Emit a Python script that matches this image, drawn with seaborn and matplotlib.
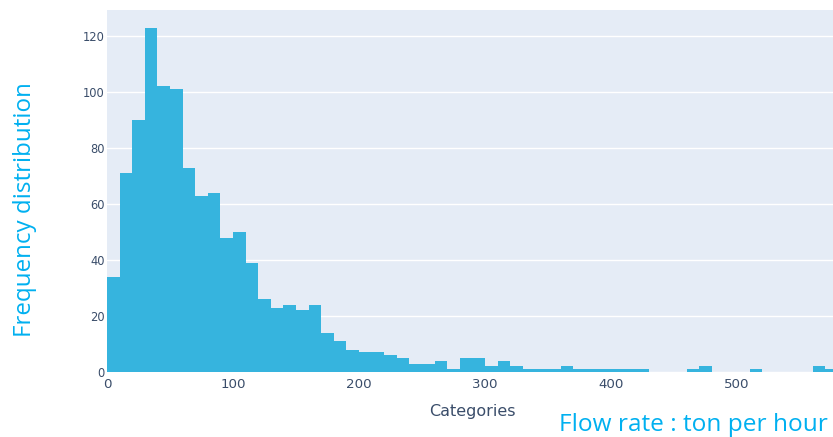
import matplotlib
matplotlib.use("Agg")
import matplotlib.pyplot as plt
import numpy as np
import seaborn as sns

# Histogram of flow rate, 10 t/h bins from 0 to 580
bin_edges = list(range(0, 590, 10))
bin_counts = [34, 71, 90, 123, 102, 101, 73, 63, 64, 48,
              50, 39, 26, 23, 24, 22, 24, 14, 11, 8,
              7, 7, 6, 5, 3, 3, 4, 1, 5, 5,
              2, 4, 2, 1, 1, 1, 2, 1, 1, 1,
              1, 1, 1, 0, 0, 0, 1, 2, 0, 0,
              0, 1, 0, 0, 0, 0, 2, 1]
x_ticks = [0, 100, 200, 300, 400, 500]
y_ticks = [0, 20, 40, 60, 80, 100, 120]

bar_color = "#36b4de"
panel_color = "#e5ecf6"
tick_color = "#3a4d6a"
title_color = "#00b0f0"

sns.set_style("white", {"axes.facecolor": panel_color})
plt.rcParams["font.family"] = ["DejaVu Sans"]

fig = plt.figure(figsize=(8.33, 4.37), dpi=100)
ax = fig.add_axes([107 / 833, 65 / 437, 730.8 / 833, 362 / 437])

centers = np.array(bin_edges[:-1]) + 5
sns.histplot(x=centers, weights=bin_counts, bins=bin_edges, color=bar_color,
             alpha=1.0, linewidth=0, ax=ax, zorder=3)

ax.set_xlim(0, 580)
ax.set_ylim(0, 129.3)
ax.set_xticks(x_ticks)
ax.set_yticks(y_ticks)
ax.yaxis.grid(True, color="white", linewidth=1.0, zorder=0)
ax.xaxis.grid(False)
ax.set_axisbelow(True)
for s in ax.spines.values():
    s.set_visible(False)

ax.tick_params(axis="x", length=0, pad=4, labelsize=9.6, labelcolor=tick_color)
ax.tick_params(axis="y", length=0, pad=1.5, labelsize=8.3, labelcolor=tick_color)

ax.set_xlabel("Categories", fontsize=11.5, color=tick_color)
ax.xaxis.set_label_coords(0.5, -0.11)
ax.xaxis.label.set_va("center")

ax.set_ylabel("Frequency distribution", fontsize=17.4, color=title_color,
              family=["Open Sans", "DejaVu Sans"])
ax.yaxis.set_label_coords(-0.112, 0.4475)
ax.yaxis.label.set_va("center")

fig.text(559 / 833, 6 / 437, "Flow rate : ton per hour", fontsize=17.6,
         color=title_color, ha="left", va="baseline",
         family=["Open Sans", "DejaVu Sans"])

fig.savefig("out.png", dpi=100)
